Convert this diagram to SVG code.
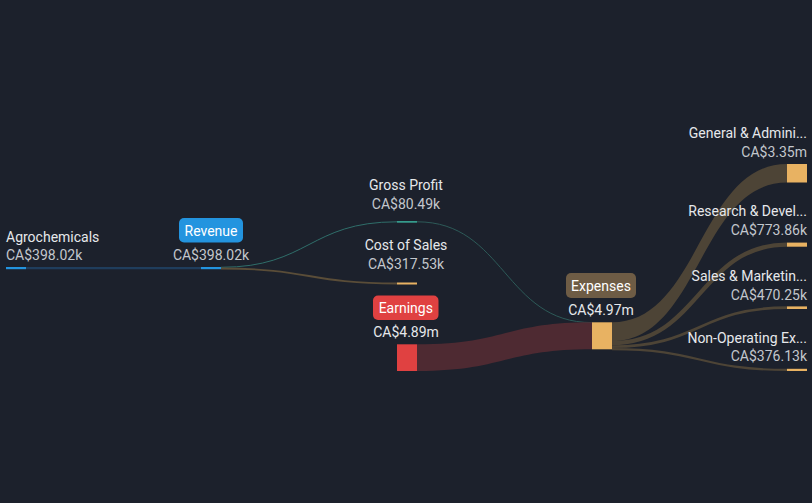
<svg xmlns="http://www.w3.org/2000/svg" width="812" height="503" viewBox="0 0 812 503">
<style>
text{font-family:Roboto,"Liberation Sans",sans-serif;font-size:14px}
.lbl{fill:#e6e8eb}
.val{fill:#c3c7cd}
.bt{fill:#ffffff}
.gold{fill:#e8b262}
.fx{fill:#4d4436}
.sx{fill:none;stroke:#4d4436}
</style>
<rect width="812" height="503" fill="#1c212c"/>
<g id="connectors">
<path d="M26 268.1 L201 268.1" stroke="#1f3d5c" stroke-width="2.2" fill="none"/>
<path d="M221 267.3 C309 267.3,309 221.8,397 221.8" stroke="#2f6e6a" stroke-width="1" fill="none"/>
<path d="M221 268.5 C309 268.5,309 283.5,397 283.5" stroke="#5a4d38" stroke-width="1.8" fill="none"/>
<path d="M417 221.8 C504.5 221.8,504.5 322.6,592 322.6" stroke="#2d5a58" stroke-width="1" fill="none"/>
<path d="M417 344.3 C504.5 344.3,504.5 322.3,592 322.3 L592 349.3 C504.5 349.3,504.5 371,417 371 Z" fill="#4e2a32"/>
<path class="fx" d="M612 322.3 C699.5 322.3,699.5 164,787 164 L787 182.5 C699.5 182.5,699.5 341.2,612 341.2 Z"/>
<path class="sx" d="M612 343.2 C699.5 343.2,699.5 244.6,787 244.6" stroke-width="4.2"/>
<path class="sx" d="M612 346.7 C699.5 346.7,699.5 307.7,787 307.7" stroke-width="2.7"/>
<path class="sx" d="M612 349.1 C699.5 349.1,699.5 369.9,787 369.9" stroke-width="2.2"/>
</g>
<g id="agrochemicals">
<rect x="6" y="267" width="20" height="2.2" fill="#2394df"/>
<text class="lbl" x="6" y="242">Agrochemicals</text>
<text class="val" x="6" y="260">CA$398.02k</text>
</g>
<g id="revenue">
<rect x="201" y="267" width="20" height="2.2" fill="#2394df"/>
<rect x="179" y="218" width="64" height="24.5" rx="5" fill="#2394df"/>
<text class="bt" x="211" y="235.5" text-anchor="middle">Revenue</text>
<text class="val" x="211" y="260" text-anchor="middle">CA$398.02k</text>
</g>
<g id="gross-profit">
<rect x="397" y="221.3" width="20" height="1.2" fill="#40d1b6"/>
<text class="lbl" x="406" y="190" text-anchor="middle">Gross Profit</text>
<text class="val" x="406" y="209" text-anchor="middle">CA$80.49k</text>
</g>
<g id="cost-of-sales">
<rect class="gold" x="397" y="282.5" width="20" height="2"/>
<text class="lbl" x="406" y="250" text-anchor="middle">Cost of Sales</text>
<text class="val" x="406" y="269" text-anchor="middle">CA$317.53k</text>
</g>
<g id="earnings">
<rect x="397" y="344.3" width="20" height="26.7" fill="#e04141"/>
<rect x="373" y="295.5" width="65.5" height="24.5" rx="5" fill="#e04141"/>
<text class="bt" x="405.8" y="313" text-anchor="middle">Earnings</text>
<text class="lbl" x="406" y="337" text-anchor="middle">CA$4.89m</text>
</g>
<g id="expenses">
<rect class="gold" x="592" y="322.3" width="20" height="27"/>
<rect x="566" y="273" width="70" height="25" rx="5" fill="#6e5c45"/>
<text class="bt" x="601" y="291" text-anchor="middle">Expenses</text>
<text class="lbl" x="601" y="315" text-anchor="middle">CA$4.97m</text>
</g>
<g id="general-admin">
<rect class="gold" x="787" y="164" width="20" height="18.5"/>
<text class="lbl" x="807" y="138" text-anchor="end">General &amp; Admini...</text>
<text class="val" x="807" y="157" text-anchor="end">CA$3.35m</text>
</g>
<g id="research-dev">
<rect class="gold" x="787" y="242.6" width="20" height="4.1"/>
<text class="lbl" x="807" y="216" text-anchor="end">Research &amp; Devel...</text>
<text class="val" x="807" y="235" text-anchor="end">CA$773.86k</text>
</g>
<g id="sales-marketing">
<rect class="gold" x="787" y="306.4" width="20" height="2.6"/>
<text class="lbl" x="807" y="281" text-anchor="end">Sales &amp; Marketin...</text>
<text class="val" x="807" y="300" text-anchor="end">CA$470.25k</text>
</g>
<g id="non-operating">
<rect class="gold" x="787" y="368.8" width="20" height="2.2"/>
<text class="lbl" x="807" y="343" text-anchor="end">Non-Operating Ex...</text>
<text class="val" x="807" y="361" text-anchor="end">CA$376.13k</text>
</g>
</svg>
